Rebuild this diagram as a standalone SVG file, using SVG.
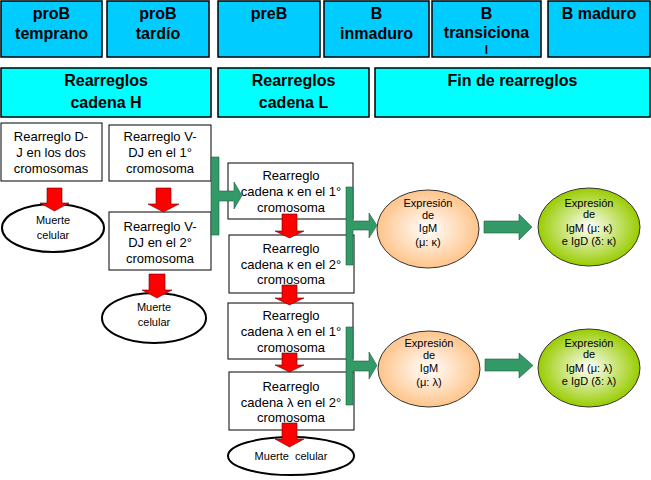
<svg xmlns="http://www.w3.org/2000/svg" width="651" height="480" viewBox="0 0 651 480">
<style>
.stage{fill:#00CCFF;stroke:#000;stroke-width:1.5}
.phase{fill:#00FFFF;stroke:#000;stroke-width:1.5}
.ht{font-family:"Liberation Sans",Arial,sans-serif;font-size:16px;font-weight:bold;text-anchor:middle;fill:#000}
.box{fill:#fff;stroke:#000;stroke-width:1}
.bt{font-family:"Liberation Sans",Arial,sans-serif;font-size:13px;text-anchor:middle;fill:#000}
.death{fill:#fff;stroke:#000;stroke-width:2}
.st{font-family:"Liberation Sans",Arial,sans-serif;font-size:11px;text-anchor:middle;fill:#000}
.red{fill:#FF0000;stroke:#660000;stroke-width:0.6}
.green{fill:#339966;stroke:#1f5f40;stroke-width:0.6}
</style>
<defs>
<radialGradient id="gOr" cx="50%" cy="50%" r="50%">
<stop offset="0" stop-color="#FFFFFF"/>
<stop offset="1" stop-color="#FFC48A"/>
</radialGradient>
<radialGradient id="gGr" cx="50%" cy="50%" r="50%">
<stop offset="0" stop-color="#FFFFFF"/>
<stop offset="1" stop-color="#99CC00"/>
</radialGradient>
</defs>

<g id="stage-proB-temprano"><rect class="stage" x="1" y="1" width="101" height="56"/><text class="ht" x="51.5" y="19">proB</text><text class="ht" x="51.5" y="39">temprano</text></g>
<g id="stage-proB-tardio"><rect class="stage" x="107" y="1" width="102" height="56"/><text class="ht" x="158" y="19">proB</text><text class="ht" x="158" y="39">tardío</text></g>
<g id="stage-preB"><rect class="stage" x="218" y="1" width="102" height="56"/><text class="ht" x="269" y="19">preB</text></g>
<g id="stage-B-inmaduro"><rect class="stage" x="324" y="1" width="105" height="56"/><text class="ht" x="376.5" y="19">B</text><text class="ht" x="376.5" y="39">inmaduro</text></g>
<g id="stage-B-transicional"><rect class="stage" x="432" y="1" width="109" height="56"/><text class="ht" x="486.5" y="19">B</text><text class="ht" x="486.5" y="38">transiciona</text><text class="ht" x="486.5" y="54" style="font-size:12px">l</text></g>
<g id="stage-B-maduro"><rect class="stage" x="548" y="1" width="102" height="56"/><text class="ht" x="599" y="19">B maduro</text></g>

<g id="phase-H"><rect class="phase" x="1" y="68" width="210" height="49"/><text class="ht" x="106" y="86">Rearreglos</text><text class="ht" x="106" y="108">cadena H</text></g>
<g id="phase-L"><rect class="phase" x="218" y="68" width="151" height="49"/><text class="ht" x="293.5" y="86">Rearreglos</text><text class="ht" x="293.5" y="108">cadena L</text></g>
<g id="phase-fin"><rect class="phase" x="375" y="68" width="275" height="49"/><text class="ht" x="512.5" y="86">Fin de rearreglos</text></g>

<g id="box-DJ"><rect class="box" x="1" y="123" width="101" height="58"/><text class="bt" x="51" y="140.5">Rearreglo D-</text><text class="bt" x="51" y="156.5">J en los dos</text><text class="bt" x="51" y="172.5">cromosomas</text></g>
<g id="box-VDJ1"><rect class="box" x="109" y="125" width="102" height="56"/><text class="bt" x="160" y="140.5">Rearreglo V-</text><text class="bt" x="160" y="156.5">DJ en el 1°</text><text class="bt" x="160" y="172.5">cromosoma</text></g>
<g id="box-VDJ2"><rect class="box" x="109" y="212" width="102" height="58"/><text class="bt" x="160" y="230.5">Rearreglo V-</text><text class="bt" x="160" y="246.5">DJ en el 2°</text><text class="bt" x="160" y="262.5">cromosoma</text></g>
<g id="box-k1"><rect class="box" x="228" y="163" width="125" height="56"/><text class="bt" x="291" y="179.5">Rearreglo</text><text class="bt" x="291" y="196">cadena κ en el 1°</text><text class="bt" x="291" y="211.5">cromosoma</text></g>
<g id="box-k2"><rect class="box" x="229" y="235" width="125" height="58"/><text class="bt" x="291" y="252.5">Rearreglo</text><text class="bt" x="291" y="268.5">cadena κ en el 2°</text><text class="bt" x="291" y="283.5">cromosoma</text></g>
<g id="box-l1"><rect class="box" x="228" y="303" width="125" height="56"/><text class="bt" x="291" y="319.5">Rearreglo</text><text class="bt" x="291" y="336">cadena λ en el 1°</text><text class="bt" x="291" y="351.5">cromosoma</text></g>
<g id="box-l2"><rect class="box" x="229" y="372" width="125" height="58"/><text class="bt" x="291" y="390.5">Rearreglo</text><text class="bt" x="291" y="406.5">cadena λ en el 2°</text><text class="bt" x="291" y="421.5">cromosoma</text></g>

<g id="death-1"><ellipse class="death" cx="53" cy="228" rx="51" ry="24"/><text class="st" x="53" y="224">Muerte</text><text class="st" x="53" y="239">celular</text></g>
<g id="death-2"><ellipse class="death" cx="154" cy="318" rx="52" ry="25"/><text class="st" x="154" y="311">Muerte</text><text class="st" x="154" y="326">celular</text></g>
<g id="death-3"><ellipse class="death" cx="291" cy="456" rx="63" ry="19"/><text class="st" x="291" y="460" xml:space="preserve">Muerte  celular</text></g>

<g id="igm-k"><ellipse cx="428" cy="229" rx="51" ry="39" fill="url(#gOr)" stroke="#333" stroke-width="1"/><text class="st" x="428" y="207">Expresión</text><text class="st" x="428" y="219">de</text><text class="st" x="428" y="232">IgM</text><text class="st" x="428" y="245.5">(μ: κ)</text></g>
<g id="igmd-k"><ellipse cx="589" cy="227" rx="51" ry="39" fill="url(#gGr)" stroke="#333" stroke-width="1"/><text class="st" x="589" y="207">Expresión</text><text class="st" x="589" y="218">de</text><text class="st" x="589" y="232">IgM (μ: κ)</text><text class="st" x="589" y="245">e IgD (δ: κ)</text></g>
<g id="igm-l"><ellipse cx="429" cy="369" rx="51" ry="38" fill="url(#gOr)" stroke="#333" stroke-width="1"/><text class="st" x="429" y="347">Expresión</text><text class="st" x="429" y="359">de</text><text class="st" x="429" y="372">IgM</text><text class="st" x="429" y="385.5">(μ: λ)</text></g>
<g id="igmd-l"><ellipse cx="589" cy="368" rx="51" ry="39" fill="url(#gGr)" stroke="#333" stroke-width="1"/><text class="st" x="589" y="347">Expresión</text><text class="st" x="589" y="358">de</text><text class="st" x="589" y="372">IgM (μ: λ)</text><text class="st" x="589" y="385">e IgD (δ: λ)</text></g>

<g id="connectors">
<path class="red" d="M47,188 H62 V203 H69 L54.5,211 L40,203 H47 Z"/>
<path class="red" d="M156,188 H171 V204 H179 L163.5,212 L148,204 H156 Z"/>
<path class="red" d="M149,274 H165 V290 H172 L157,298 L142,290 H149 Z"/>
<path class="red" d="M282,214 H297 V231 H304 L289.5,238 L275,231 H282 Z"/>
<path class="red" d="M282,285 H297 V298 H304 L289.5,305 L275,298 H282 Z"/>
<path class="red" d="M282,353 H297 V365 H304 L289.5,372 L275,365 H282 Z"/>
<path class="red" d="M282,423 H297 V439 H304 L289.5,447 L275,439 H282 Z"/>
<path class="green" d="M211,157 H219 V191 H234 V182 L242,195.5 L234,209 V201 H219 V235 H211 Z"/>
<path class="green" d="M346,187 H353 V221 H369 V213 L377,225.5 L369,238 V230 H353 V265 H346 Z"/>
<path class="green" d="M346,327 H353 V361 H369 V352 L377,365.5 L369,379 V371 H353 V405 H346 Z"/>
<path class="green" d="M484,221 H519 V214 L532,227 L519,240 V233 H484 Z"/>
<path class="green" d="M485,359 H519 V353 L533,365.5 L519,378 V371 H485 Z"/>
</g>
</svg>
